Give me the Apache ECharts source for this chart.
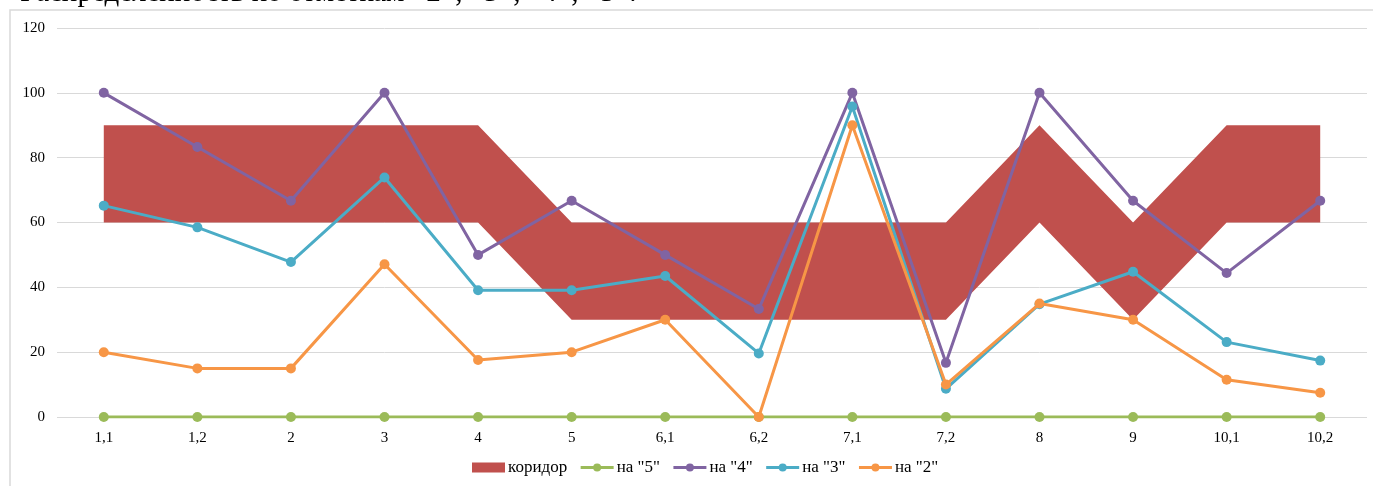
<!DOCTYPE html>
<html>
<head>
<meta charset="utf-8">
<script src="https://cdn.jsdelivr.net/npm/echarts@6/dist/echarts.min.js"></script>
<style>
html,body{margin:0;padding:0;background:#fff;}
#chart{width:1373px;height:486px;}
</style>
</head>
<body>
<div id="chart"></div>
<script>
var categories = ['1,1','1,2','2','3','4','5','6,1','6,2','7,1','7,2','8','9','10,1','10,2'];
var corridorLow = [60,60,60,60,60,30,30,30,30,30,60,30,60,60];
var corridorWidth = [30,30,30,30,30,30,30,30,30,30,30,30,30,30];
var grade5 = [0,0,0,0,0,0,0,0,0,0,0,0,0,0];
var grade4 = [100,83.3,66.7,100,50,66.7,50,33.3,100,16.7,100,66.7,44.4,66.7];
var grade3 = [65.2,58.5,47.8,73.9,39.1,39.1,43.5,19.6,95.8,8.7,34.8,44.8,23.1,17.4];
var grade2 = [20,15,15,47.1,17.6,20,30,0,90,10,35,30,11.5,7.5];
var yTicks = {min:0, max:120, interval:20};
var titleText = 'Распределенность по отметкам «2», «3», «4», «5».';

var serif = '"Liberation Serif", "DejaVu Serif", serif';
var chart = echarts.init(document.getElementById('chart'), null, {renderer:'canvas'});

function lineSeries(name, data, color, z) {
  return {
    name: name, type: 'line', data: data, z: z,
    symbol: 'circle', symbolSize: 10,
    itemStyle: {color: color},
    lineStyle: {color: color, width: 3},
    emphasis: {disabled: true},
    animation: false
  };
}

chart.setOption({
  animation: false,
  graphic: [
    {type: 'rect', shape: {x: 10, y: 10, width: 1400, height: 520},
     style: {fill: 'none', stroke: '#d9d9d9', lineWidth: 1.5}, z: -1},
    {type: 'text', x: 20, y: -21,
     style: {text: titleText, font: '29px ' + serif, fill: '#000'}}
  ],
  grid: {left: 57, right: 6, top: 28, bottom: 69, containLabel: false},
  legend: {
    bottom: 5, left: 467,
    itemWidth: 33, itemHeight: 10, itemGap: 12,
    lineStyle: {width: 3},
    textStyle: {fontFamily: serif, fontSize: 17, color: '#000', padding: [0, 0, 0, -2]},
    data: [
      {name: 'коридор', icon: 'rect'},
      'на "5"', 'на "4"', 'на "3"', 'на "2"'
    ]
  },
  xAxis: {
    type: 'category', data: categories, boundaryGap: true,
    axisLine: {show: false}, axisTick: {show: false},
    axisLabel: {fontFamily: serif, fontSize: 15, color: '#000', margin: 14}
  },
  yAxis: {
    type: 'value', min: yTicks.min, max: yTicks.max, interval: yTicks.interval,
    axisLine: {show: false}, axisTick: {show: false},
    axisLabel: {fontFamily: serif, fontSize: 15, color: '#000', margin: 12},
    splitLine: {lineStyle: {color: '#d9d9d9', width: 1}}
  },
  series: [
    {name: 'low', type: 'line', stack: 'corr', data: corridorLow, symbol: 'none',
     lineStyle: {width: 0, opacity: 0}, areaStyle: {opacity: 0}, silent: true, z: 1},
    {name: 'коридор', type: 'line', stack: 'corr', data: corridorWidth, symbol: 'none',
     itemStyle: {color: '#C0504D'},
     lineStyle: {width: 0, opacity: 0}, areaStyle: {color: '#C0504D', opacity: 1}, silent: true, z: 1},
    lineSeries('на "5"', grade5, '#9BBB59', 3),
    lineSeries('на "4"', grade4, '#8064A2', 4),
    lineSeries('на "3"', grade3, '#4BACC6', 5),
    lineSeries('на "2"', grade2, '#F79646', 6)
  ]
});
</script>
</body>
</html>
